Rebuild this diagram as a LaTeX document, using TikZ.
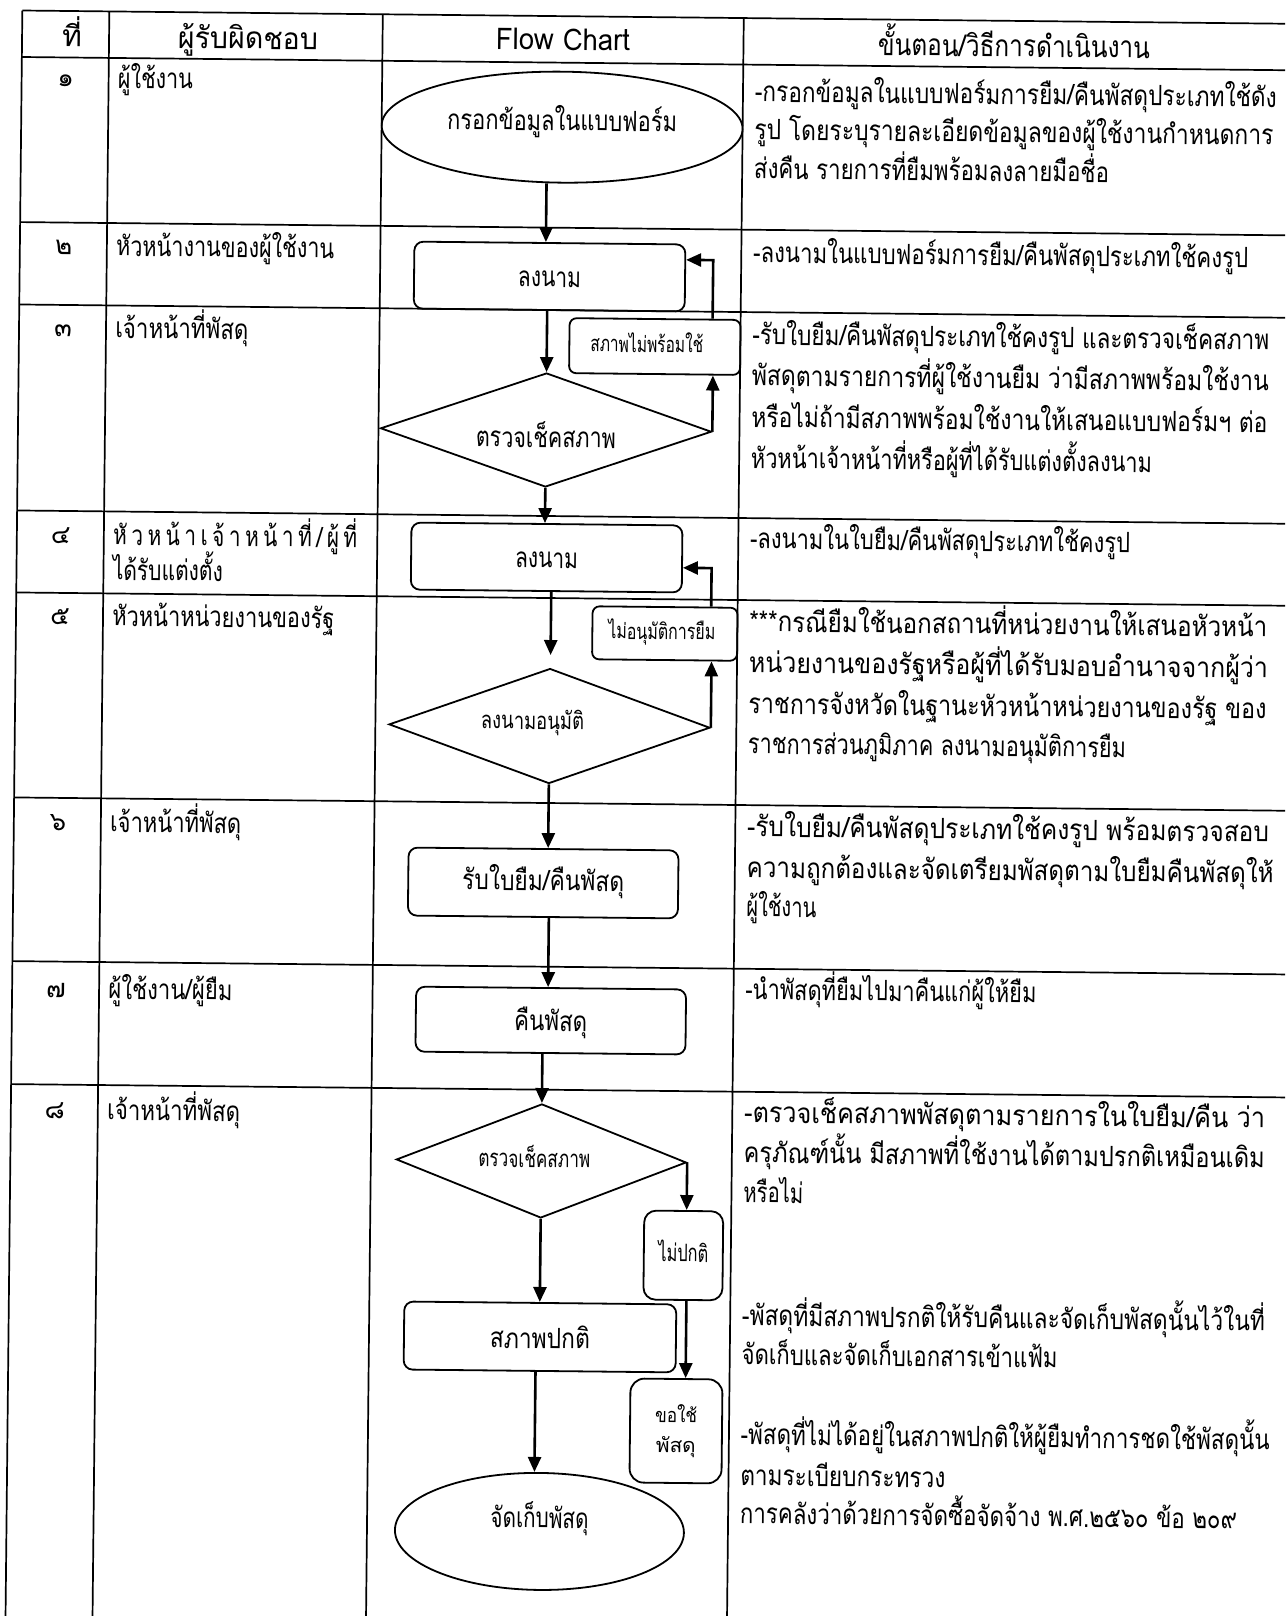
\documentclass[tikz,border=0pt]{standalone}
\usepackage{fontspec}
\setmainfont[Script=Thai]{Loma}
\usetikzlibrary{arrows.meta,shapes.geometric}
\newlength\pxu \setlength\pxu{0.5pt}
\newcommand\fw[2]{\resizebox{#1\pxu}{\height}{#2}}
\newcommand\gp{\hspace{6\pxu}}
\begin{document}
\begin{tikzpicture}[x=0.5pt,y=-0.5pt,
  grid/.style={line width=0.85pt},
  tx/.style={inner sep=0pt, text height=7.5pt, text depth=0pt, font=\fontsize{14pt}{16pt}\selectfont},
  lt/.style={tx, anchor=west},
  ct/.style={tx, anchor=center, text height=7pt, font=\fontsize{13pt}{15pt}\selectfont},
  hd/.style={inner sep=0pt, text height=8pt, text depth=0pt, anchor=center, font=\fontsize{15pt}{17pt}\selectfont},
  fbox/.style={draw, line width=0.9pt, rounded corners=4.5pt, inner sep=0pt, text height=7.5pt, text depth=0pt, font=\fontsize{14pt}{16pt}\selectfont},
  sbox/.style={fbox, rounded corners=3.5pt, text height=5.9pt, font=\fontsize{11pt}{13pt}\selectfont},
  ell/.style={draw, line width=0.9pt, ellipse, inner sep=0pt, text height=7.5pt, text depth=0pt, font=\fontsize{14pt}{16pt}\selectfont},
  dia/.style={draw, line width=0.9pt, diamond, aspect=2.8, inner sep=0pt, text height=7.5pt, text depth=0pt, font=\fontsize{14pt}{16pt}\selectfont},
  arr/.style={line width=1.3pt, -{Triangle[length=7.5pt,width=6.5pt]}}
]
\useasboundingbox (0,0) rectangle (1285,1616);
\clip (0,0) rectangle (1285,1616);
\fill[white] (0,0) rectangle (1285,1616);
\begin{scope}[rotate around={-0.6:(642,808)}, transform shape]
% table grid
\foreach \yy in {17,63.5,228.6,311,517,599,804,967.7,1090.7}
  \draw[grid] (14,\yy) -- (1310,\yy);
\foreach \xx in {14,101,374.5,735.5}
  \draw[grid] (\xx,17) -- (\xx,1660);

% header
\node[hd] (h1) at (64,45) {ที่};
\node[hd] (h2) at (240,45) {\fw{140}{ผู้รับผิดชอบ}};
\node[hd] (h3) at (555,43) {\fw{134}{Flow Chart}};
\node[hd] (h4) at (1006,45) {\fw{272}{ขั้นตอน/วิธีการดำเนินงาน}};

% row numbers
\node[ct] (n1) at (58,86) {๑};
\node[ct] (n2) at (58,254) {๒};
\node[ct] (n3) at (58,336) {๓};
\node[ct] (n4) at (58,543) {๔};
\node[ct] (n5) at (58,624) {๕};
\node[ct] (n6) at (58,830) {๖};
\node[ct] (n7) at (58,997) {๗};
\node[ct] (n8) at (58,1118) {๘};

% responsible
\node[lt] (r1) at (110,86) {\fw{75}{ผู้ใช้งาน}};
\node[lt] (r2) at (110,254) {\fw{218}{หัวหน้างานของผู้ใช้งาน}};
\node[lt] (r3) at (110,336) {\fw{133}{เจ้าหน้าที่พัสดุ}};
\node[lt] (r4a) at (110,543) {\fw{244}{หั\gp ว\gp ห\gp น้\gp า\gp เ\gp จ้\gp า\gp ห\gp น้\gp า\gp ที่\gp /\gp ผู้\gp ที่}};
\node[lt] (r4b) at (110,578) {\fw{110}{ได้รับแต่งตั้ง}};
\node[lt] (r5) at (110,624) {\fw{222}{หัวหน้าหน่วยงานของรัฐ}};
\node[lt] (r6) at (110,830) {\fw{131}{เจ้าหน้าที่พัสดุ}};
\node[lt] (r7) at (110,997) {\fw{124}{ผู้ใช้งาน/ผู้ยืม}};
\node[lt] (r8) at (110,1118) {\fw{133}{เจ้าหน้าที่พัสดุ}};

% descriptions
\node[lt] (d1a) at (747,93) {\fw{522}{-กรอกข้อมูลในแบบฟอร์มการยืม/คืนพัสดุประเภทใช้ดัง}};
\node[lt] (d1b) at (747,131) {\fw{519}{รูป โดยระบุรายละเอียดข้อมูลของผู้ใช้งานกำหนดการ}};
\node[lt] (d1c) at (747,170) {\fw{355}{ส่งคืน รายการที่ยืมพร้อมลงลายมือชื่อ}};
\node[lt] (d2a) at (747,254) {\fw{495}{-ลงนามในแบบฟอร์มการยืม/คืนพัสดุประเภทใช้คงรูป}};
\node[lt] (d3a) at (747,336) {\fw{517}{-รับใบยืม/คืนพัสดุประเภทใช้คงรูป และตรวจเช็คสภาพ}};
\node[lt] (d3b) at (747,377) {\fw{517}{พัสดุตามรายการที่ผู้ใช้งานยืม ว่ามีสภาพพร้อมใช้งาน}};
\node[lt] (d3c) at (747,418.5) {\fw{516}{หรือไม่ถ้ามีสภาพพร้อมใช้งานให้เสนอแบบฟอร์มฯ ต่อ}};
\node[lt] (d3d) at (747,459.5) {\fw{401}{หัวหน้าเจ้าหน้าที่หรือผู้ที่ได้รับแต่งตั้งลงนาม}};
\node[lt] (d4a) at (747,540) {\fw{380}{-ลงนามในใบยืม/คืนพัสดุประเภทใช้คงรูป}};
\node[lt] (d5a) at (747,623) {\fw{518}{***กรณียืมใช้นอกสถานที่หน่วยงานให้เสนอหัวหน้า}};
\node[lt] (d5b) at (747,664) {\fw{519}{หน่วยงานของรัฐหรือผู้ที่ได้รับมอบอำนาจจากผู้ว่า}};
\node[lt] (d5c) at (747,705) {\fw{518}{ราชการจังหวัดในฐานะหัวหน้าหน่วยงานของรัฐ ของ}};
\node[lt] (d5d) at (747,745) {\fw{378}{ราชการส่วนภูมิภาค ลงนามอนุมัติการยืม}};
\node[lt] (d6a) at (747,828) {\fw{522}{-รับใบยืม/คืนพัสดุประเภทใช้คงรูป พร้อมตรวจสอบ}};
\node[lt] (d6b) at (747,869) {\fw{527}{ความถูกต้องและจัดเตรียมพัสดุตามใบยืมคืนพัสดุให้}};
\node[lt] (d6c) at (747,908) {\fw{70}{ผู้ใช้งาน}};
\node[lt] (d7a) at (747,991) {\fw{291}{-นำพัสดุที่ยืมไปมาคืนแก่ผู้ให้ยืม}};
\node[lt] (d8a) at (747,1114) {\fw{521}{-ตรวจเช็คสภาพพัสดุตามรายการในใบยืม/คืน ว่า}};
\node[lt] (d8b) at (747,1154) {\fw{521}{ครุภัณฑ์นั้น มีสภาพที่ใช้งานได้ตามปรกติเหมือนเดิม}};
\node[lt] (d8c) at (747,1194) {\fw{60}{หรือไม่}};
\node[lt] (d8d) at (747,1317) {\fw{523}{-พัสดุที่มีสภาพปรกติให้รับคืนและจัดเก็บพัสดุนั้นไว้ในที่}};
\node[lt] (d8e) at (747,1356) {\fw{316}{จัดเก็บและจัดเก็บเอกสารเข้าแฟ้ม}};
\node[lt] (d8f) at (747,1436) {\fw{529}{-พัสดุที่ไม่ได้อยู่ในสภาพปกติให้ผู้ยืมทำการชดใช้พัสดุนั้น}};
\node[lt] (d8g) at (747,1477) {\fw{205}{ตามระเบียบกระทรวง}};
\node[lt] (d8h) at (747,1515) {\fw{497}{การคลังว่าด้วยการจัดซื้อจัดจ้าง พ.ศ.๒๕๖๐ ข้อ ๒๐๙}};

% flow chart nodes
\node[ell, minimum width=180.5pt, minimum height=55.5pt] (E1) at (555,128) {\raisebox{2pt}{\fw{230}{กรอกข้อมูลในแบบฟอร์ม}}};
\node[fbox, minimum width=135.5pt, minimum height=33.5pt] (B1) at (544,277.5) {\raisebox{-1.5pt}{\fw{63}{ลงนาม}}};
\node[sbox, minimum width=85.5pt, minimum height=27.5pt] (S1) at (650,346.4) {\hspace*{-16\pxu}\fw{113}{สภาพไม่พร้อมใช้}};
\node[dia, minimum width=165.5pt, minimum height=57pt] (D1) at (542,431) {\raisebox{-5pt}{\fw{140}{ตรวจเช็คสภาพ}}};
\node[fbox, minimum width=135.5pt, minimum height=33.5pt] (B2) at (544,558.5) {\raisebox{-1.5pt}{\fw{63}{ลงนาม}}};
\node[sbox, minimum width=72.5pt, minimum height=26.5pt] (N1) at (663,633.3) {\hspace*{-6\pxu}\fw{107}{ไม่อนุมัติการยืม}};
\node[dia, minimum width=160.5pt, minimum height=57.5pt, text height=6.4pt, font=\fontsize{12pt}{14pt}\selectfont] (D2) at (548.6,727) {\hspace*{-34\pxu}\raisebox{1.5pt}{\fw{103}{ลงนามอนุมัติ}}};
\node[fbox, minimum width=135pt, minimum height=34pt] (B3) at (544,884) {\fw{162}{รับใบยืม/คืนพัสดุ}};
\node[fbox, minimum width=135pt, minimum height=32.5pt] (B4) at (553,1021.5) {\raisebox{-1.5pt}{\fw{73}{คืนพัสดุ}}};
\node[dia, minimum width=145pt, minimum height=57pt, text height=6.4pt, font=\fontsize{12pt}{14pt}\selectfont] (D3) at (545,1162) {\hspace*{-14\pxu}\fw{112}{ตรวจเช็คสภาพ}};
\node[sbox, rounded corners=6pt, minimum width=39.5pt, minimum height=44.5pt, text height=6.4pt, font=\fontsize{12pt}{14pt}\selectfont] (NP) at (688,1255) {\fw{50}{ไม่ปกติ}};
\node[fbox, minimum width=136pt, minimum height=34pt] (B5) at (545.5,1338) {\raisebox{-2pt}{\fw{100}{สภาพปกติ}}};
\node[sbox, rounded corners=7pt, minimum width=46pt, minimum height=52pt, text height=5.4pt, font=\fontsize{10pt}{13.5pt}\selectfont] (KP) at (682.5,1430.6) {\raisebox{6.75pt}{\fw{42}{ขอใช้}}};
\node[inner sep=0pt, text height=5.4pt, text depth=0pt, font=\fontsize{10pt}{13.5pt}\selectfont] (KP2) at (682.5,1446.6) {\fw{40}{พัสดุ}};
\node[ell, minimum width=144.5pt, minimum height=58.5pt] (E2) at (547,1532.5) {\raisebox{5.5pt}{\fw{98}{จัดเก็บพัสดุ}}};

% connectors
\coordinate (ax1) at (540,0);
\coordinate (ax6) at (550,0);
\coordinate (ax9) at (691.6,0);
\coordinate (ax10) at (541.4,0);
\coordinate (a4) at (549,656);
\coordinate (f1) at (707.5,259.4);
\coordinate (f2) at (709.1,567.4);
\draw[arr] (E1.south -| ax1) -- (B1.north -| ax1);
\draw[arr] (B1.south -| D1.north) -- (D1.north);
\draw[arr] (D1.east) -- (S1.south -| D1.east);
\draw[arr] (S1.north -| f1) -- (f1) -- (B1.east |- f1);
\draw[arr] (D1.south) -- (B2.north -| D1.south);
\draw[arr] (B2.south -| a4) -- (a4);
\draw[arr] (D2.east) -- (N1.south -| D2.east);
\draw[arr] (N1.north -| f2) -- (f2) -- (B2.east |- f2);
\draw[arr] (D2.south) -- (B3.north -| D2.south);
\draw[arr] (B3.south -| ax6) -- (B4.north -| ax6);
\draw[arr] (B4.south -| D3.north) -- (D3.north);
\draw[arr] (D3.east) -- (D3.east |- NP.north);
\draw[arr] (D3.south) -- (B5.north -| D3.south);
\draw[arr] (NP.south -| ax9) -- (KP.north -| ax9);
\draw[arr] (B5.south -| ax10) -- (E2.north -| ax10);
\end{scope}
\end{tikzpicture}
\end{document}
